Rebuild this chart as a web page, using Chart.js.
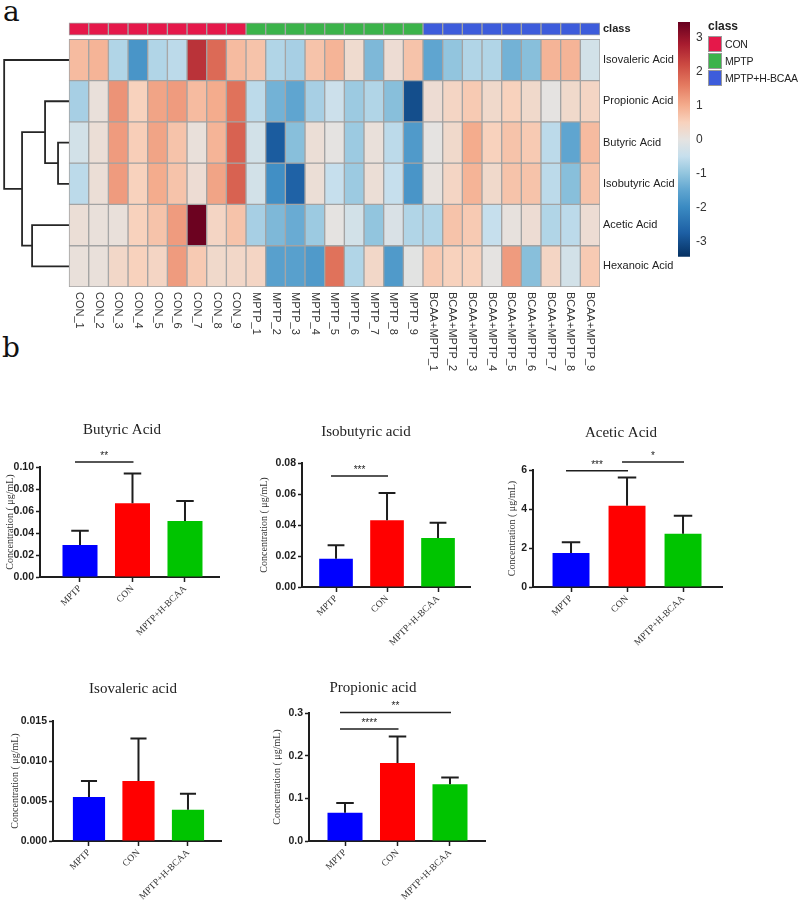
<!DOCTYPE html>
<html>
<head>
<meta charset="utf-8">
<title>SCFA heatmap and concentrations</title>
<script src="https://cdn.jsdelivr.net/npm/chart.js@4.4.1/dist/chart.umd.min.js"></script>
<style>
  html, body { margin: 0; padding: 0; background: #fff; }
  #page { position: relative; width: 800px; height: 906px; overflow: hidden; }
  .box { position: absolute; }
  .tag { position: absolute; font-family: "DejaVu Serif", serif; font-size: 28px; line-height: 28px; color: #111; }
  #legend { position: absolute; left: 708px; top: 19px; white-space: nowrap; font: 10.5px "Liberation Sans", Arial, sans-serif; letter-spacing: -0.2px; color: #222; }
  #legend .ttl { font-weight: bold; font-size: 12px; height: 16px; line-height: 14px; letter-spacing: 0; }
  #legend .row { display: flex; align-items: center; height: 17px; }
  #legend .sw { width: 12px; height: 14px; border: 1px solid #9a9a9a; margin-right: 3px; flex: none; }
</style>
</head>
<body>
<div id="page">
  <div class="tag" style="left:3px;top:-2px">a</div>
  <div class="tag" style="left:2px;top:334px">b</div>
  <div class="box" style="left:0;top:0;width:677px;height:385px"><canvas id="heat"></canvas></div>
  <div class="box" style="left:676px;top:0;width:45px;height:270px"><canvas id="cbar"></canvas></div>
  <div id="legend"></div>
</div>
<script>
// ---------- panel a: heatmap data ----------
const samples = [
  'CON_1', 'CON_2', 'CON_3', 'CON_4', 'CON_5', 'CON_6', 'CON_7', 'CON_8', 'CON_9',
  'MPTP_1', 'MPTP_2', 'MPTP_3', 'MPTP_4', 'MPTP_5', 'MPTP_6', 'MPTP_7', 'MPTP_8', 'MPTP_9',
  'BCAA+MPTP_1', 'BCAA+MPTP_2', 'BCAA+MPTP_3', 'BCAA+MPTP_4', 'BCAA+MPTP_5',
  'BCAA+MPTP_6', 'BCAA+MPTP_7', 'BCAA+MPTP_8', 'BCAA+MPTP_9'
];
const sampleClass = [0, 0, 0, 0, 0, 0, 0, 0, 0, 1, 1, 1, 1, 1, 1, 1, 1, 1, 2, 2, 2, 2, 2, 2, 2, 2, 2];
const classNames = ['CON', 'MPTP', 'MPTP+H-BCAA'];
const acids = ['Isovaleric Acid', 'Propionic Acid', 'Butyric Acid', 'Isobutyric Acid', 'Acetic Acid', 'Hexanoic Acid'];

const isovalericZ = [0.8, 0.9, -0.7, -1.8, -0.7, -0.6, 2.5, 1.8, 0.8, 0.7, -0.7, -0.8, 0.7, 0.9, 0.25, -1.2, 0.2, 0.7, -1.5, -1.0, -0.7, -0.7, -1.3, -1.1, 0.9, 0.9, -0.3];
const propionicZ = [-0.8, 0.1, 1.3, 0.5, 1.1, 1.2, 0.8, 1.0, 1.7, -0.6, -1.3, -1.5, -0.8, -0.4, -0.9, -0.7, -1.1, -3.0, 0.2, 0.4, 0.6, 0.3, 0.5, 0.3, 0.0, 0.3, 0.4];
const butyricZ = [-0.3, 0.15, 1.2, 0.55, 1.1, 0.7, 0.1, 0.9, 1.9, -0.3, -2.8, -1.1, 0.15, 0.0, -0.9, 0.1, -0.6, -1.7, 0.0, 0.3, 1.0, 0.5, 0.7, 0.6, -0.6, -1.5, 0.8];
const isobutyricZ = [-0.6, 0.15, 1.2, 0.5, 1.0, 0.7, 0.2, 1.1, 1.9, -0.3, -1.9, -2.7, 0.15, -0.5, -0.9, 0.15, -0.5, -1.8, 0.05, 0.4, 0.9, 0.3, 0.7, 0.7, -0.6, -1.1, 0.7];
const aceticZ = [0.15, 0.1, 0.1, 0.5, 0.7, 1.2, 3.4, 0.4, 0.7, -0.8, -1.2, -1.4, -0.9, 0.0, -0.3, -1.0, -0.2, -0.7, -0.7, 0.7, 0.6, -0.5, 0.05, 0.2, -0.7, -0.6, 0.2];
const hexanoicZ = [0.1, 0.1, 0.35, 0.5, 0.4, 1.2, 0.6, 0.3, 0.35, 0.4, -1.6, -1.6, -1.7, 1.7, -0.7, 0.35, -1.7, -0.05, 0.6, 0.5, 0.5, 0.0, 1.2, -1.1, 0.4, -0.3, 0.6];
const heatZ = [isovalericZ, propionicZ, butyricZ, isobutyricZ, aceticZ, hexanoicZ];

// row clustering, hclust style: negative = row (1-based), positive = earlier merge; third item = height
const dendroMerges = [[-3, -4, 0.56], [-2, 1, 1.22], [-5, -6, 1.88], [2, 3, 2.39], [-1, 4, 3.30]];
const zLimits = [-3.45, 3.45];
const colorbarTicks = [-3, -2, -1, 0, 1, 2, 3];

// ---------- panel b: concentrations (mean, SD) ----------
const groups = ['MPTP', 'CON', 'MPTP+H-BCAA'];
const butyricMean = [0.029, 0.067, 0.051];
const butyricSD = [0.013, 0.027, 0.018];
const butyricSig = [[0, 1, 0.1045, '**']];
const isobutyricMean = [0.0183, 0.043, 0.0316];
const isobutyricSD = [0.0086, 0.0176, 0.0099];
const isobutyricSig = [[0, 1, 0.0716, '***']];
const aceticMean = [1.75, 4.17, 2.73];
const aceticSD = [0.55, 1.45, 0.92];
const aceticSig = [[0, 1, 5.96, '***'], [1, 2, 6.41, '*']];
const isovalericMean = [0.0055, 0.0075, 0.0039];
const isovalericSD = [0.002, 0.0053, 0.002];
const isovalericSig = [];
const propionicMean = [0.066, 0.183, 0.133];
const propionicSD = [0.023, 0.062, 0.016];
const propionicSig = [[0, 1, 0.2625, '****'], [0, 2, 0.301, '**']];

// ---------- styles ----------
const SANS = '"Liberation Sans", Arial, sans-serif';
const SERIF = '"Liberation Serif", "Times New Roman", serif';
Chart.defaults.font.family = SANS;

const classColors = ['#e5184a', '#3bb34a', '#3d5cdb'];
const groupColors = ['#0000ff', '#ff0000', '#00c400'];
const heatStops = [
  [-3.45, '#053061'], [-2.75, '#1d5fa4'], [-2.0, '#3a8ac2'], [-1.5, '#5fa5d0'],
  [-1.0, '#92c5de'], [-0.5, '#c6dfed'], [0.0, '#e5e3e1'], [0.5, '#f8d2bd'],
  [1.0, '#f4ac8d'], [1.6, '#e47a60'], [2.2, '#cc4a42'], [2.8, '#a81c2f'], [3.45, '#67001f']
];

function hexRgb(h) {
  return [1, 3, 5].map(i => parseInt(h.slice(i, i + 2), 16));
}

function heatColor(v) {
  if (v <= heatStops[0][0]) return heatStops[0][1];
  for (let i = 1; i < heatStops.length; i++) {
    const [v1, c1] = heatStops[i];
    if (v <= v1) {
      const [v0, c0] = heatStops[i - 1];
      const t = (v - v0) / (v1 - v0);
      const a = hexRgb(c0), b = hexRgb(c1);
      return 'rgb(' + a.map((x, k) => Math.round(x + (b[k] - x) * t)).join(',') + ')';
    }
  }
  return heatStops[heatStops.length - 1][1];
}

// ---------- heatmap ----------
const cellStyle = {
  type: 'bar', borderColor: '#a3a3a3', borderWidth: 1, borderSkipped: false,
  barPercentage: 1, categoryPercentage: 1, grouped: false
};

const heatSets = [];
heatSets.push(Object.assign({}, cellStyle, {
  label: 'class',
  data: samples.map((s, j) => ({ x: j + 0.5, y: [-0.4, -0.1] })),
  backgroundColor: sampleClass.map(c => classColors[c])
}));
heatZ.forEach((row, r) => {
  heatSets.push(Object.assign({}, cellStyle, {
    label: acids[r],
    data: samples.map((s, j) => ({ x: j + 0.5, y: [r, r + 1] })),
    backgroundColor: row.map(heatColor)
  }));
});

// dendrogram: heights drawn to the left of the cells (x = -height)
const nodeY = [];
const nodeH = [];
function childPos(id) {
  return id < 0 ? { y: -id - 0.5, h: 0 } : { y: nodeY[id - 1], h: nodeH[id - 1] };
}
dendroMerges.forEach(([a, b, h], k) => {
  const A = childPos(a), B = childPos(b);
  nodeY[k] = (A.y + B.y) / 2;
  nodeH[k] = h;
  heatSets.push({
    type: 'line',
    data: [{ x: -A.h, y: A.y }, { x: -h, y: A.y }, { x: -h, y: B.y }, { x: -B.h, y: B.y }],
    borderColor: '#262626', borderWidth: 1.8, pointRadius: 0, tension: 0, fill: false
  });
});

// sample names run top-to-bottom under each column
const sampleLabels = {
  id: 'sampleLabels',
  afterDraw(chart) {
    const { ctx, chartArea, scales: { x } } = chart;
    ctx.save();
    ctx.font = '11px ' + SANS;
    ctx.fillStyle = '#333';
    ctx.textAlign = 'left';
    ctx.textBaseline = 'middle';
    samples.forEach((s, j) => {
      ctx.save();
      ctx.translate(x.getPixelForValue(j + 0.5), chartArea.bottom + 5);
      ctx.rotate(Math.PI / 2);
      ctx.fillText(s, 0, 0);
      ctx.restore();
    });
    ctx.restore();
  }
};

new Chart(document.getElementById('heat'), {
  type: 'bar',
  data: { datasets: heatSets },
  options: {
    responsive: true, maintainAspectRatio: false, animation: false, events: [],
    layout: { padding: { left: 2, top: 22, bottom: 98, right: 0 } },
    plugins: { legend: { display: false }, tooltip: { enabled: false } },
    scales: {
      x: { type: 'linear', offset: false, min: -3.41, max: 27, display: false },
      y: {
        type: 'linear', reverse: true, min: -0.42, max: 6, position: 'right',
        afterBuildTicks: s => { s.ticks = [-0.25].concat(acids.map((a, i) => i + 0.5)).map(v => ({ value: v })); },
        afterFit: s => { s.width = 77; },
        grid: { display: false, drawTicks: false },
        border: { display: false },
        ticks: {
          autoSkip: false, padding: 3, color: '#222',
          font: c => ({ family: SANS, size: 11, weight: c.tick && c.tick.value < 0 ? 'bold' : 'normal' }),
          callback: v => (v < 0 ? 'class' : acids[Math.floor(v)])
        }
      }
    }
  },
  plugins: [sampleLabels]
});

// ---------- colour key ----------
function gradientFill(c) {
  const { ctx, chartArea } = c.chart;
  if (!chartArea) return heatColor(0);
  const g = ctx.createLinearGradient(0, chartArea.bottom, 0, chartArea.top);
  heatStops.forEach(([v, col]) => g.addColorStop((v - zLimits[0]) / (zLimits[1] - zLimits[0]), col));
  return g;
}

new Chart(document.getElementById('cbar'), {
  type: 'bar',
  data: { labels: ['z'], datasets: [{ data: [zLimits], backgroundColor: gradientFill, borderWidth: 0, barPercentage: 1, categoryPercentage: 1 }] },
  options: {
    responsive: true, maintainAspectRatio: false, animation: false, events: [],
    layout: { padding: { left: 2, top: 22, bottom: 13, right: 0 } },
    plugins: { legend: { display: false }, tooltip: { enabled: false } },
    scales: {
      x: { display: false },
      y: {
        position: 'right', min: zLimits[0], max: zLimits[1],
        afterBuildTicks: s => { s.ticks = colorbarTicks.map(v => ({ value: v })); },
        afterFit: s => { s.width = 31; },
        grid: { display: false, drawTicks: false },
        border: { display: false },
        ticks: { padding: 6, color: '#333', font: { family: SANS, size: 12 } }
      }
    }
  }
});

const legend = document.getElementById('legend');
legend.innerHTML = '<div class="ttl">class</div>' + classNames.map((n, i) =>
  '<div class="row"><span class="sw" style="background:' + classColors[i] + '"></span>' + n + '</div>').join('');

// ---------- panel b: bar charts ----------
function errorBars(mean, sd, sig) {
  return {
    id: 'errorBars',
    afterDatasetsDraw(chart) {
      const { ctx, scales: { x, y } } = chart;
      const bars = chart.getDatasetMeta(0).data;
      ctx.save();
      ctx.strokeStyle = '#1e1e1e';
      ctx.lineWidth = 2;
      bars.forEach((bar, i) => {
        const top = y.getPixelForValue(mean[i] + sd[i]);
        const half = bar.width / 4;
        ctx.beginPath();
        ctx.moveTo(bar.x, bar.y);
        ctx.lineTo(bar.x, top);
        ctx.moveTo(bar.x - half, top);
        ctx.lineTo(bar.x + half, top);
        ctx.stroke();
      });
      ctx.lineWidth = 1.5;
      ctx.fillStyle = '#1e1e1e';
      ctx.font = '10px ' + SANS;
      ctx.textAlign = 'center';
      ctx.textBaseline = 'bottom';
      sig.forEach(([from, to, level, stars]) => {
        const yy = y.getPixelForValue(level);
        const x1 = x.getPixelForValue(from) - 5;
        const x2 = x.getPixelForValue(to) + 1;
        ctx.beginPath();
        ctx.moveTo(x1, yy);
        ctx.lineTo(x2, yy);
        ctx.stroke();
        ctx.fillText(stars, (x1 + x2) / 2, yy - 1);
      });
      ctx.restore();
    }
  };
}

const barPanels = [
  { title: 'Butyric Acid', mean: butyricMean, sd: butyricSD, sig: butyricSig, yMax: 0.10, yStep: 0.02, dec: 2,
    box: { left: 0, top: 421, yW: 40, plotW: 179, gap: 25, titlePad: 28, plotH: 109.5, yTitlePad: 4 }, xr: [-0.762, 2.648], barPct: 0.667 },
  { title: 'Isobutyric acid', mean: isobutyricMean, sd: isobutyricSD, sig: isobutyricSig, yMax: 0.08, yStep: 0.02, dec: 2,
    box: { left: 258, top: 423, yW: 44, plotW: 168, gap: 4, titlePad: 22, plotH: 124, yTitlePad: 0 }, xr: [-0.667, 2.627], barPct: 0.66 },
  { title: 'Acetic Acid', mean: aceticMean, sd: aceticSD, sig: aceticSig, yMax: 6, yStep: 2, dec: 0,
    box: { left: 505, top: 424, yW: 28, plotW: 189, gap: 15, titlePad: 28, plotH: 117, yTitlePad: 1 }, xr: [-0.679, 2.696], barPct: 0.66 },
  { title: 'Isovaleric acid', mean: isovalericMean, sd: isovalericSD, sig: isovalericSig, yMax: 0.015, yStep: 0.005, dec: 3,
    box: { left: 8, top: 680, yW: 45, plotW: 168, gap: 37, titlePad: 23, plotH: 120, yTitlePad: 1 }, xr: [-0.727, 2.667], barPct: 0.65 },
  { title: 'Propionic acid', mean: propionicMean, sd: propionicSD, sig: propionicSig, yMax: 0.3, yStep: 0.1, dec: 1,
    box: { left: 260, top: 679, yW: 49, plotW: 177, gap: 0, titlePad: 16, plotH: 128, yTitlePad: 11 }, xr: [-0.686, 2.686], barPct: 0.667 }
];

const page = document.getElementById('page');
const axisLine = { display: true, color: '#1e1e1e', width: 2 };

barPanels.forEach(p => {
  const b = p.box;
  const holder = document.createElement('div');
  holder.className = 'box';
  holder.style.cssText = 'left:' + b.left + 'px;top:' + b.top + 'px;width:' + (b.yW + b.plotW + b.gap) +
    'px;height:' + Math.round(18 + b.titlePad + b.plotH + 60) + 'px';
  const cv = document.createElement('canvas');
  holder.appendChild(cv);
  page.appendChild(holder);

  new Chart(cv, {
    type: 'bar',
    data: {
      datasets: [{
        data: p.mean.map((m, i) => ({ x: i, y: m })),
        backgroundColor: groupColors, borderWidth: 0,
        barPercentage: p.barPct, categoryPercentage: 1
      }]
    },
    options: {
      responsive: true, maintainAspectRatio: false, animation: false, events: [],
      layout: { padding: 0 },
      plugins: {
        legend: { display: false }, tooltip: { enabled: false },
        title: {
          display: true, text: p.title, color: '#222',
          font: { family: SERIF, size: 15, weight: 'normal' },
          padding: { top: 0, bottom: b.titlePad }
        }
      },
      scales: {
        x: {
          type: 'linear', offset: false, min: p.xr[0], max: p.xr[1],
          afterBuildTicks: s => { s.ticks = groups.map((g, i) => ({ value: i })); },
          afterFit: s => { s.height = 60; },
          ticks: {
            autoSkip: false, minRotation: 45, maxRotation: 45, padding: 1, color: '#333',
            font: { family: SERIF, size: 9.5 }, callback: v => groups[v]
          },
          grid: { display: true, offset: false, drawOnChartArea: false, drawTicks: true, tickLength: 5, tickColor: '#1e1e1e', tickWidth: 1.5 },
          border: axisLine
        },
        y: {
          min: 0, max: p.yMax,
          afterFit: s => { s.width = b.yW; },
          ticks: {
            stepSize: p.yStep, padding: 2, color: '#1e1e1e',
            font: { family: SANS, size: 10.5, weight: 'bold' },
            callback: v => Number(v).toFixed(p.dec)
          },
          grid: { display: true, drawOnChartArea: false, drawTicks: true, tickLength: 4, tickColor: '#1e1e1e', tickWidth: 1.5 },
          border: axisLine,
          title: {
            display: true, text: 'Concentration ( μg/mL)', color: '#333',
            font: { family: SERIF, size: 10 }, padding: { top: b.yTitlePad, bottom: 0 }
          }
        },
        yr: {
          position: 'right', min: 0, max: 1,
          afterFit: s => { s.width = b.gap; },
          ticks: { display: false },
          grid: { display: false, drawTicks: false },
          border: { display: false }
        }
      }
    },
    plugins: [errorBars(p.mean, p.sd, p.sig)]
  });
});
</script>
</body>
</html>
